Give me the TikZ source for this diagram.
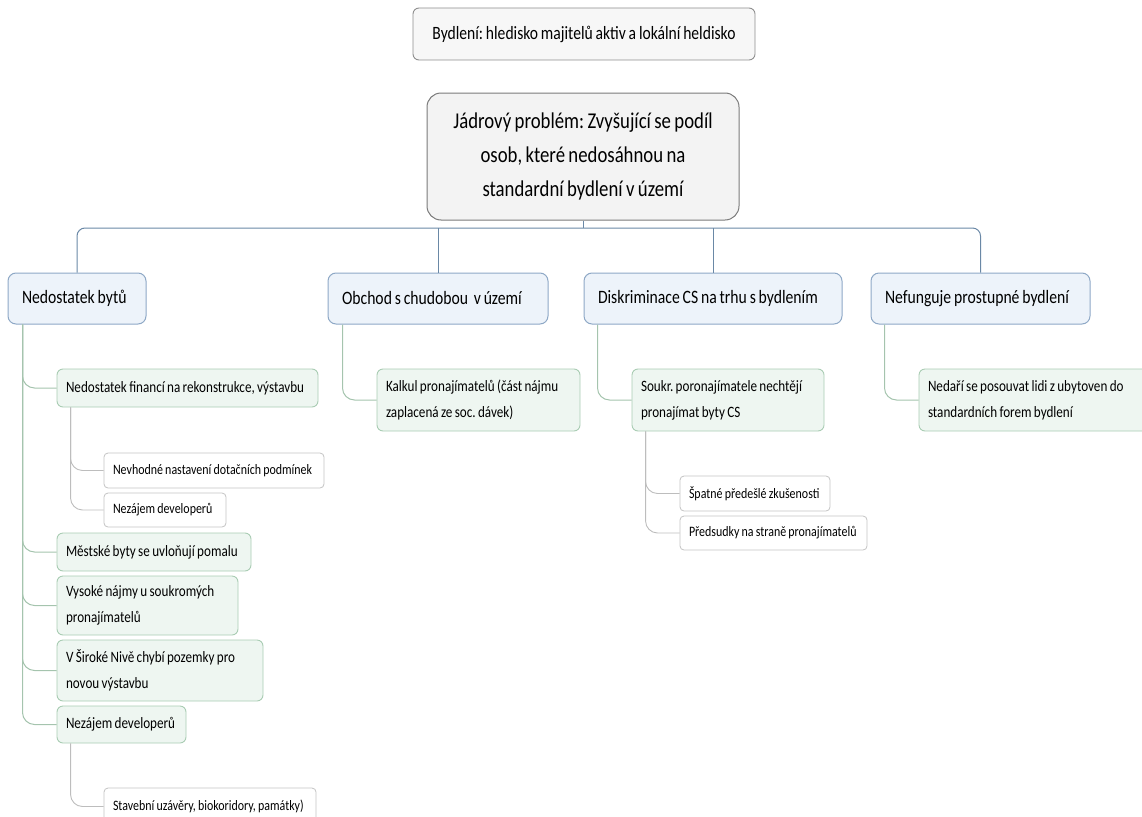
\documentclass[tikz,border=0pt]{standalone}
\usepackage{fontspec}
\setmainfont[FakeStretch=0.83, WordSpace=0.8, HyphenChar=None]{Carlito}
\usepackage{tikz}
\frenchspacing

\definecolor{rootline}{HTML}{7A7A7A}
\definecolor{rootfill}{HTML}{F3F3F3}
\definecolor{mainline}{HTML}{8EA8C6}
\definecolor{mainfill}{HTML}{EDF3FA}
\definecolor{subline}{HTML}{A9CCB3}
\definecolor{subfill}{HTML}{EEF6F1}
\definecolor{leafline}{HTML}{C4C4C4}
\definecolor{busline}{HTML}{6A88A6}

\begin{document}
\begin{tikzpicture}[x=1pt, y=-1pt,
    top_node/.style={draw=rootline!85, fill=white!97!black, rounded corners=6pt, line width=0.9pt, align=center, font=\fontsize{18.8}{24}\selectfont},
    root_node/.style={draw=rootline, fill=rootfill, rounded corners=14pt, line width=1pt, align=center, font=\fontsize{22.6}{34}\selectfont},
    main_node/.style={draw=mainline, fill=mainfill, rounded corners=8pt, line width=1pt, inner xsep=14pt, align=flush left, font=\fontsize{18.9}{24}\selectfont},
    sub_node/.style={draw=subline, fill=subfill, rounded corners=6pt, line width=0.9pt, inner xsep=9pt, align=flush left, font=\fontsize{15.8}{26}\selectfont},
    leaf_node/.style={draw=leafline, fill=white, rounded corners=4pt, line width=0.8pt, inner xsep=9pt, align=flush left, font=\fontsize{14.4}{20}\selectfont},
    bus_edge/.style={draw=busline, line width=1pt, rounded corners=8pt},
    sub_edge/.style={draw=subline!90!gray, line width=1pt, rounded corners=12pt},
    leaf_edge/.style={draw=leafline!90!gray, line width=0.9pt, rounded corners=12pt}]

    \useasboundingbox (0,0) rectangle (1142,816);

    % top and root
    \node[top_node, minimum width=342pt, minimum height=52pt] (top) at (584,34) {Bydlení: hledisko majitelů aktiv a lokální heldisko};
    \node[root_node, minimum width=312pt, minimum height=127pt] (root) at (583,156.5) {Jádrový problém: Zvyšující se podíl\\osob, které nedosáhnou na\\standardní bydlení v území};
    \coordinate (bus) at (583,228);

    % main topics
    \node[main_node, text width=110pt, minimum height=51pt] (nb) at (77,298.5) {Nedostatek bytů};
    \node[main_node, text width=192pt, minimum height=51pt] (ob) at (438,298.5) {Obchod s chudobou\ \ v území};
    \node[main_node, text width=230pt, minimum height=51pt] (di) at (713,298.5) {Diskriminace CS na trhu s bydlením};
    \node[main_node, text width=191pt, minimum height=51pt] (ne) at (980.5,298.5) {Nefunguje prostupné bydlení};

    \draw[bus_edge] (nb.north) |- (bus) -| (ne.north);
    \draw[bus_edge] (root.south) -- (bus);
    \draw[bus_edge] (ob.north) -- (ob.north |- bus);
    \draw[bus_edge] (di.north) -- (di.north |- bus);

    % subtopics
    \node[sub_node, text width=243pt, minimum height=38pt] (fin) at (187.5,388) {Nedostatek financí na rekonstrukce, výstavbu};
    \node[sub_node, text width=176pt, minimum height=38pt] (mes) at (154,552) {Městské byty se uvloňují pomalu};
    \node[sub_node, text width=163pt, minimum height=59pt] (vys) at (147.5,605.5) {Vysoké nájmy u soukromých\\pronajímatelů};
    \node[sub_node, text width=188pt, minimum height=61pt] (sir) at (160,670.5) {V Široké Nivě chybí pozemky pro\\novou výstavbu};
    \node[sub_node, text width=111pt, minimum height=37pt] (nez) at (121.5,724.5) {Nezájem developerů};
    \node[sub_node, text width=185pt, minimum height=62pt] (kal) at (478.5,400) {Kalkul pronajímatelů (část nájmu\\zaplacená ze soc. dávek)};
    \node[sub_node, text width=174pt, minimum height=62pt] (sou) at (728,400) {Soukr. poronajímatele nechtějí\\pronajímat byty CS};
    \node[sub_node, text width=213pt, minimum height=62pt] (ned) at (1034.5,400) {Nedaří se posouvat lidi z ubytoven do\\standardních forem bydlení};

    \draw[sub_edge] ([xshift=15pt]nb.south west) |- (fin.west);
    \draw[sub_edge] ([xshift=15pt]nb.south west) |- (mes.west);
    \draw[sub_edge] ([xshift=15pt]nb.south west) |- (vys.west);
    \draw[sub_edge] ([xshift=15pt]nb.south west) |- (sir.west);
    \draw[sub_edge] ([xshift=15pt]nb.south west) |- (nez.west);
    \draw[sub_edge] ([xshift=15pt]ob.south west) |- (kal.west);
    \draw[sub_edge] ([xshift=14pt]di.south west) |- (sou.west);
    \draw[sub_edge] ([xshift=14pt]ne.south west) |- (ned.west);

    % leaves
    \node[leaf_node, text width=202pt, minimum height=35pt] (nev) at (214,470.5) {Nevhodné nastavení dotačních podmínek};
    \node[leaf_node, text width=104pt, minimum height=34pt] (dev) at (165,510) {Nezájem developerů};
    \node[leaf_node, text width=132pt, minimum height=35pt] (spa) at (755,493.5) {Špatné předešlé zkušenosti};
    \node[leaf_node, text width=169pt, minimum height=34pt] (pre) at (773.5,533) {Předsudky na straně pronajímatelů};
    \node[leaf_node, text width=194pt, minimum height=37pt] (sta) at (210,806.5) {Stavební uzávěry, biokoridory, památky)};

    \draw[leaf_edge] ([xshift=14pt]fin.south west) |- (nev.west);
    \draw[leaf_edge] ([xshift=14pt]fin.south west) |- (dev.west);
    \draw[leaf_edge] ([xshift=14pt]sou.south west) |- (spa.west);
    \draw[leaf_edge] ([xshift=14pt]sou.south west) |- (pre.west);
    \draw[leaf_edge] ([xshift=14pt]nez.south west) |- (sta.west);
\end{tikzpicture}
\end{document}
